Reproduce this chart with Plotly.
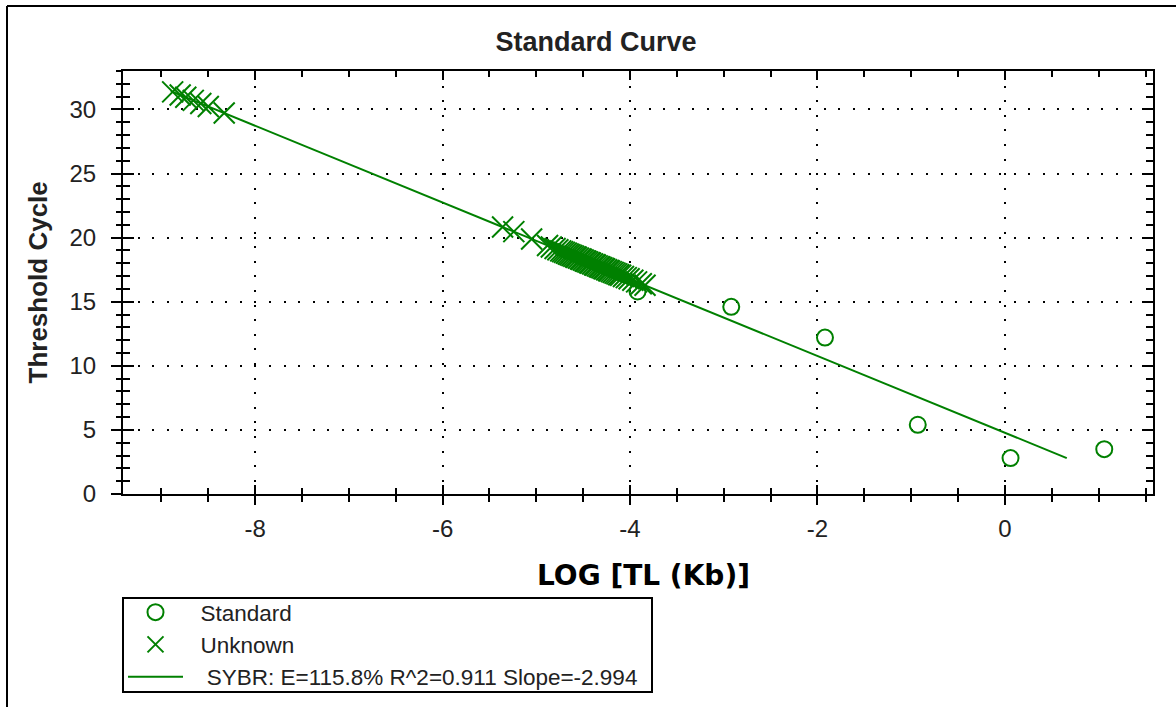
import plotly.graph_objects as go

# Standards: log template length vs. threshold cycle
std_log = [-3.92, -2.92, -1.92, -0.93, 0.06, 1.06]
std_ct = [15.8, 14.6, 12.2, 5.4, 2.8, 3.5]

# Unknown samples placed on the standard curve
unk_log = [
    -8.88, -8.80, -8.74, -8.66, -8.58, -8.50, -8.33,
    -5.36, -5.24, -5.05,
    -4.88, -4.84, -4.80, -4.77, -4.74, -4.72, -4.70, -4.68, -4.66, -4.64,
    -4.62, -4.60, -4.58, -4.57, -4.55, -4.53, -4.52, -4.50, -4.48, -4.47,
    -4.45, -4.43, -4.42, -4.40, -4.38, -4.37, -4.35, -4.33, -4.32, -4.30,
    -4.28, -4.27, -4.25, -4.23, -4.22, -4.20, -4.18, -4.16, -4.14, -4.12,
    -4.10, -4.07, -4.04, -4.01, -3.97, -3.93, -3.88, -3.84,
]
unk_ct = [
    31.37, 31.13, 30.95, 30.71, 30.47, 30.23, 29.72,
    20.83, 20.47, 19.90,
    19.39, 19.27, 19.15, 19.06, 18.97, 18.91, 18.85, 18.79, 18.73, 18.67,
    18.61, 18.55, 18.49, 18.46, 18.40, 18.34, 18.31, 18.25, 18.19, 18.16,
    18.10, 18.04, 18.01, 17.95, 17.89, 17.86, 17.80, 17.74, 17.71, 17.65,
    17.59, 17.56, 17.50, 17.44, 17.41, 17.35, 17.29, 17.23, 17.17, 17.11,
    17.06, 16.97, 16.88, 16.79, 16.67, 16.55, 16.40, 16.28,
]

# Fitted standard curve
fit_slope = -2.994
fit_intercept = 4.78
fit_r2 = 0.911
fit_span = [-8.9, 0.66]
fit_ct = [fit_intercept + fit_slope * x for x in fit_span]
efficiency = (10 ** (-1 / fit_slope) - 1) * 100
NBSP = "\u00a0"
fit_label = NBSP * 3 + "SYBR: E=%.1f%% R^2=%.3f Slope=%.3f" % (efficiency, fit_r2, fit_slope)

# Axis tick labels
x_tick_vals = [-8, -6, -4, -2, 0]
x_tick_text = ["-8", "-6", "-4", "-2", "0"]
y_tick_vals = [0, 5, 10, 15, 20, 25, 30]
y_tick_text = ["0", "5", "10", "15", "20", "25", "30"]

GREEN = "#008000"
SANS = "Liberation Sans, Arial, sans-serif"
X_RANGE = [-9.41, 1.58]
Y_RANGE = [0, 33]

# pixel helpers for the plot frame (left 123, right 1153, top 71, bottom 494)
def px_x(p):
    return (p - 123) / 1030

def px_y(p):
    return (494 - p) / 423

fig = go.Figure()

fig.add_trace(go.Scatter(
    x=fit_span, y=fit_ct, mode="lines", name=fit_label,
    line=dict(color=GREEN, width=2), legendrank=3, hoverinfo="skip",
))
fig.add_trace(go.Scatter(
    x=std_log, y=std_ct, mode="markers", name=NBSP * 2 + "Standard",
    marker=dict(symbol="circle-open", size=16, color=GREEN,
                line=dict(color=GREEN, width=2)),
    legendrank=1,
))
fig.add_trace(go.Scatter(
    x=unk_log, y=unk_ct, mode="markers", name=NBSP * 2 + "Unknown",
    marker=dict(symbol="x-thin-open", size=21, color=GREEN,
                line=dict(color=GREEN, width=2)),
    legendrank=2,
))
# empty trace that carries the inner tick overlay
fig.add_trace(go.Scatter(x=[], y=[], xaxis="x2", yaxis="y2",
                         showlegend=False, hoverinfo="skip"))

common = dict(
    showline=True, linewidth=2, linecolor="black", zeroline=False,
    tickcolor="black", tickwidth=2,
)

fig.update_layout(
    width=1176, height=707,
    margin=dict(l=123, r=23, t=71, b=213, autoexpand=False),
    paper_bgcolor="white", plot_bgcolor="white",
    showlegend=True,
    title=dict(
        text="<b>Standard Curve</b>", xref="container", x=596 / 1176,
        xanchor="center", y=1 - 42 / 707, yanchor="middle",
        font=dict(family=SANS, size=27, color="#222222"),
    ),
    xaxis=dict(
        **common, range=X_RANGE, mirror=True,
        tickmode="array", tickvals=x_tick_vals, ticktext=x_tick_text,
        ticks="outside", ticklen=9, ticklabelstandoff=3,
        tickfont=dict(family=SANS, size=24, color="#222222"),
        minor=dict(dtick=0.5, tick0=0, ticks="outside", ticklen=6,
                   tickwidth=2, tickcolor="black", showgrid=False),
        showgrid=True, gridcolor="black", gridwidth=2, griddash="2px,12.6px",
    ),
    yaxis=dict(
        **common, range=Y_RANGE, mirror=True,
        tickmode="array", tickvals=y_tick_vals, ticktext=y_tick_text,
        ticks="outside", ticklen=10, ticklabelstandoff=10,
        tickfont=dict(family=SANS, size=24, color="#222222"),
        minor=dict(dtick=1, tick0=0, ticks="outside", ticklen=5,
                   tickwidth=2, tickcolor="black", showgrid=False),
        showgrid=True, gridcolor="black", gridwidth=2, griddash="2px,12.6px",
    ),
    xaxis2=dict(
        **common, range=X_RANGE, overlaying="x", anchor="y", side="bottom",
        mirror="ticks", tickmode="array", tickvals=x_tick_vals,
        ticks="inside", ticklen=9, showticklabels=False, showgrid=False,
        minor=dict(dtick=0.5, tick0=0, ticks="inside", ticklen=6,
                   tickwidth=2, tickcolor="black", showgrid=False),
    ),
    yaxis2=dict(
        **common, range=Y_RANGE, overlaying="y", anchor="x", side="left",
        mirror="ticks", tickmode="array", tickvals=y_tick_vals,
        ticks="inside", ticklen=11, showticklabels=False, showgrid=False,
        minor=dict(dtick=1, tick0=0, ticks="inside", ticklen=7,
                   tickwidth=2, tickcolor="black", showgrid=False),
    ),
    legend=dict(
        x=0, y=px_y(591), xanchor="left", yanchor="top",
        bgcolor="rgba(0,0,0,0)", borderwidth=0,
        font=dict(family=SANS, size=22.5, color="#222222"),
        itemwidth=55, tracegroupgap=0,
    ),
    annotations=[
        dict(text="<b>Threshold Cycle</b>", xref="paper", yref="paper",
             x=px_x(37), y=0.5, textangle=-90, showarrow=False,
             xanchor="center", yanchor="middle",
             font=dict(family=SANS, size=26, color="#222222")),
        dict(text="<b>LOG [TL (Kb)]</b>", xref="paper", yref="paper",
             x=px_x(643), y=px_y(575), showarrow=False,
             xanchor="center", yanchor="middle",
             font=dict(family="DejaVu Sans, Verdana, sans-serif", size=28,
                       color="black")),
    ],
    shapes=[
        # outer frame of the chart window
        dict(type="line", xref="paper", yref="paper",
             x0=px_x(7), x1=px_x(7), y0=-1.0, y1=px_y(6),
             line=dict(color="black", width=2)),
        dict(type="line", xref="paper", yref="paper",
             x0=px_x(7), x1=1.2, y0=px_y(6), y1=px_y(6),
             line=dict(color="black", width=2)),
        # legend box
        dict(type="rect", xref="paper", yref="paper", layer="below",
             x0=px_x(123), x1=px_x(652), y0=px_y(692), y1=px_y(598),
             line=dict(color="black", width=2), fillcolor="white"),
    ],
)

fig.write_html("out.html")
